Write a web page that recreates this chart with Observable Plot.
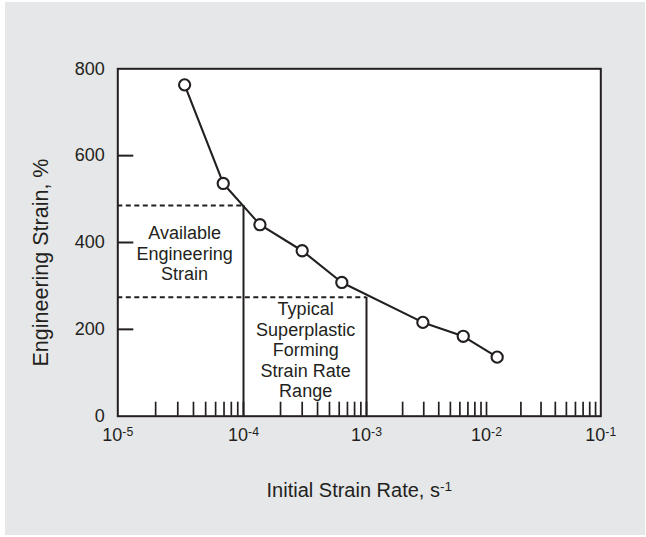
<!DOCTYPE html>
<html><head><meta charset="utf-8">
<script src="https://cdn.jsdelivr.net/npm/d3@7"></script>
<script src="https://cdn.jsdelivr.net/npm/@observablehq/plot@0.6"></script>
<style>
html,body{margin:0;padding:0;background:#fff;}
#wrap{position:relative;width:646px;height:537px;overflow:hidden;}
#panel{position:absolute;left:5px;top:2px;width:640px;height:533px;background:#e6e7e8;}
#chart{position:absolute;left:0;top:0;}
</style></head><body>
<div id="wrap"><div id="panel"></div><div id="chart"></div></div>
<script>
// Data
const strainRate = [3.4e-5, 6.9e-5, 1.36e-4, 3.0e-4, 6.3e-4, 2.95e-3, 6.4e-3, 1.24e-2];
const engStrain  = [763, 536, 441, 381, 308, 216, 184, 136];

// Superplastic forming window
const rangeRates   = [1e-4, 1e-3];
const rangeStrains = [485, 274];

// Tick values
const yTickValues  = [0, 200, 400, 600, 800];
const yInnerTicks  = [200, 400, 600];
const xDecades     = [1e-5, 1e-4, 1e-3, 1e-2, 1e-1];
const minorMultipliers = [2, 3, 4, 5, 6, 7, 8, 9];
const extraDecadeTicks = [1e-4, 1e-3, 1e-2];

// Labels
const xTitle = "Initial Strain Rate, s^-1";
const yTitle = "Engineering Strain, %";
const noteAvailable = "Available\nEngineering\nStrain";
const noteRange = "Typical\nSuperplastic\nForming\nStrain Rate\nRange";
const noteAvailablePos = {x: 3.4e-5, y: 375};
const noteRangePos = {x: 3.2e-4, y: 153};

const ink = "#231f20";
const points = strainRate.map((x, i) => ({x, y: engStrain[i]}));
const minorTicks = xDecades.slice(0, 4).flatMap(d => minorMultipliers.map(m => m * d)).concat(extraDecadeTicks);
const dashed = rangeRates.map((r, i) => ({x1: xDecades[0], x2: r, y: rangeStrains[i]}));
const verticals = rangeRates.map((r, i) => ({x: r, y1: 0, y2: rangeStrains[i]}));

const fmtPow = d => "10^" + Math.round(Math.log10(d));

const chart = Plot.plot({
  width: 646,
  height: 537,
  marginLeft: 117.3,
  marginRight: 45.7,
  marginTop: 68.3,
  marginBottom: 121.3,
  style: {fontFamily: "'Liberation Sans', Arial, Helvetica, sans-serif", fontSize: "18px", color: ink, background: "transparent", overflow: "visible"},
  x: {type: "log", domain: xDecades, range: [117.3, 243, 366, 486, 600.3], axis: null},
  y: {domain: [0, 800], axis: null},
  marks: [
    Plot.frame({fill: "white", stroke: null}),
    Plot.ruleY(dashed, {x1: "x1", x2: "x2", y: "y", stroke: ink, strokeWidth: 2, strokeDasharray: "5,3.5"}),
    Plot.ruleX(verticals, {x: "x", y1: "y1", y2: "y2", stroke: ink, strokeWidth: 2}),
    Plot.axisX(minorTicks, {anchor: "bottom", tickSize: -14, tickFormat: () => "", label: null, stroke: ink, strokeWidth: 1.7}),
    Plot.axisY(yInnerTicks, {anchor: "left", tickSize: -16, tickFormat: () => "", label: null, stroke: ink, strokeWidth: 2}),
    Plot.line(points, {x: "x", y: "y", stroke: ink, strokeWidth: 2.1}),
    Plot.dot(points, {x: "x", y: "y", r: 5.6, fill: "white", stroke: ink, strokeWidth: 2.1}),
    Plot.frame({stroke: ink, strokeWidth: 2}),
    Plot.axisY(yTickValues, {anchor: "left", tickSize: 0, tickPadding: 13, label: null, fontSize: 18, fill: ink}),
    Plot.axisX(xDecades, {anchor: "bottom", tickSize: 0, tickPadding: 12, tickFormat: fmtPow, label: null, fontSize: 18, fill: ink}),
    Plot.text([noteAvailable], {x: () => noteAvailablePos.x, y: () => noteAvailablePos.y, text: d => d, fontSize: 18, lineHeight: 1.14, fill: ink, textAnchor: "middle", lineAnchor: "middle"}),
    Plot.text([noteRange], {x: () => noteRangePos.x, y: () => noteRangePos.y, text: d => d, fontSize: 18, lineHeight: 1.14, fill: ink, textAnchor: "middle", lineAnchor: "middle"}),
    Plot.text([xTitle], {frameAnchor: "bottom", text: d => d, dy: 74, fontSize: 20, fill: ink, textAnchor: "middle", lineAnchor: "middle"}),
    Plot.text([yTitle], {frameAnchor: "left", text: d => d, dx: -77, dy: 20, rotate: -90, fontSize: 21.5, fill: ink, textAnchor: "middle", lineAnchor: "middle"})
  ]
});

// Turn "base^exp" text into real superscripts
d3.select(chart).selectAll("text").each(function() {
  const el = d3.select(this);
  const tspans = el.selectAll("tspan");
  const target = tspans.empty() ? el : d3.select(tspans.nodes()[tspans.size() - 1]);
  const t = target.text();
  const i = t.indexOf("^");
  if (i < 0) return;
  target.text(t.slice(0, i));
  target.append("tspan").attr("dy", "-0.42em").attr("font-size", "0.68em").text(t.slice(i + 1));
});

document.getElementById("chart").appendChild(chart);
</script>
</body></html>
